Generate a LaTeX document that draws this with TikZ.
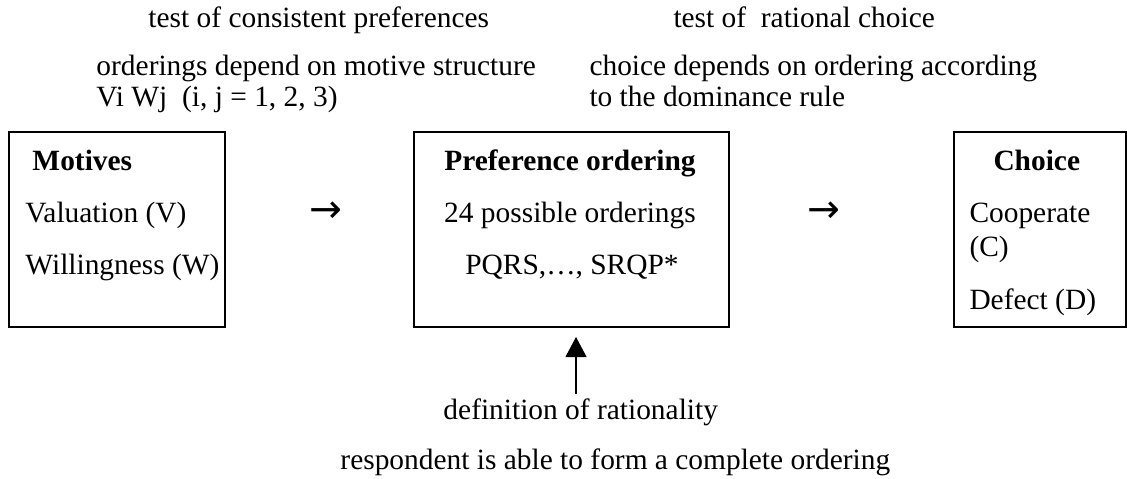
\documentclass[tikz,border=0pt]{standalone}
\usepackage{fontspec}
\setmainfont{Liberation Serif}
\newfontfamily\symfont{DejaVu Sans}
\usetikzlibrary{positioning}
\usetikzlibrary{arrows.meta}
\newcommand{\pxl}{0.408pt}

\begin{document}
\begin{tikzpicture}[
  x=0.408pt, y=-0.408pt,
  font=\fontsize{12}{14}\selectfont,
  box/.style={draw, line width=0.8pt, inner sep=0pt, anchor=north west, minimum height=195*\pxl},
  txt/.style={inner sep=0pt, anchor=base west},
  head/.style={txt, font=\fontsize{12}{14}\selectfont\bfseries},
  mid/.style={inner sep=0pt, anchor=base},
  glyph/.style={inner sep=0pt, anchor=center, font=\symfont\fontsize{16}{18}\selectfont},
  arrow/.style={-{Triangle[length=8.2pt, width=8.6pt]}, line width=0.45pt}
]
\useasboundingbox (0,0) rectangle (1127,479);

\node[txt] (testpref) at (148,28) {test of consistent preferences};
\node[txt] (testchoice) at (673,28) {test of\ \ rational choice};

\node[txt] (ordA) at (96,76) {orderings depend on motive structure};
\node[txt] (ordB) at (96,107) {Vi Wj\ \ (i, j = 1, 2, 3)};
\node[txt] (domA) at (589,76) {choice depends on ordering according};
\node[txt] (domB) at (589,107) {to the dominance rule};

\node[box, minimum width=216*\pxl] (motives) at (8,131) {};
\node[box, minimum width=315*\pxl] (pref) at (413,131) {};
\node[box, minimum width=172*\pxl] (choice) at (953,131) {};

\node[head] (motT) at (32,171) {Motives};
\node[txt] (val) at (25,223) {Valuation (V)};
\node[txt] (will) at (25,275) {Willingness (W)};

\node[mid, font=\fontsize{12}{14}\selectfont\bfseries] (prefT) at (570,171) {Preference ordering};
\node[mid] (poss) at (570,223) {24 possible orderings};
\node[mid] (pqrs) at (572,275) {PQRS,…, SRQP*};

\node[head] (choT) at (993,171) {Choice};
\node[txt] (coop) at (969,223) {Cooperate};
\node[txt] (coopC) at (969,257) {(C)};
\node[txt] (defect) at (969,310) {Defect (D)};

% arrows set as text
\node[glyph] (arrA) at (326,212) {→};
\node[glyph] (arrB) at (824,212) {→};

\node[txt] (rat) at (443,420) {definition of rationality};
\node[txt] (resp) at (340,469) {respondent is able to form a complete ordering};

\coordinate (tip) at (576,337);
\draw[arrow] ([yshift=2pt]rat.north -| tip) -- (tip);

\end{tikzpicture}
\end{document}
